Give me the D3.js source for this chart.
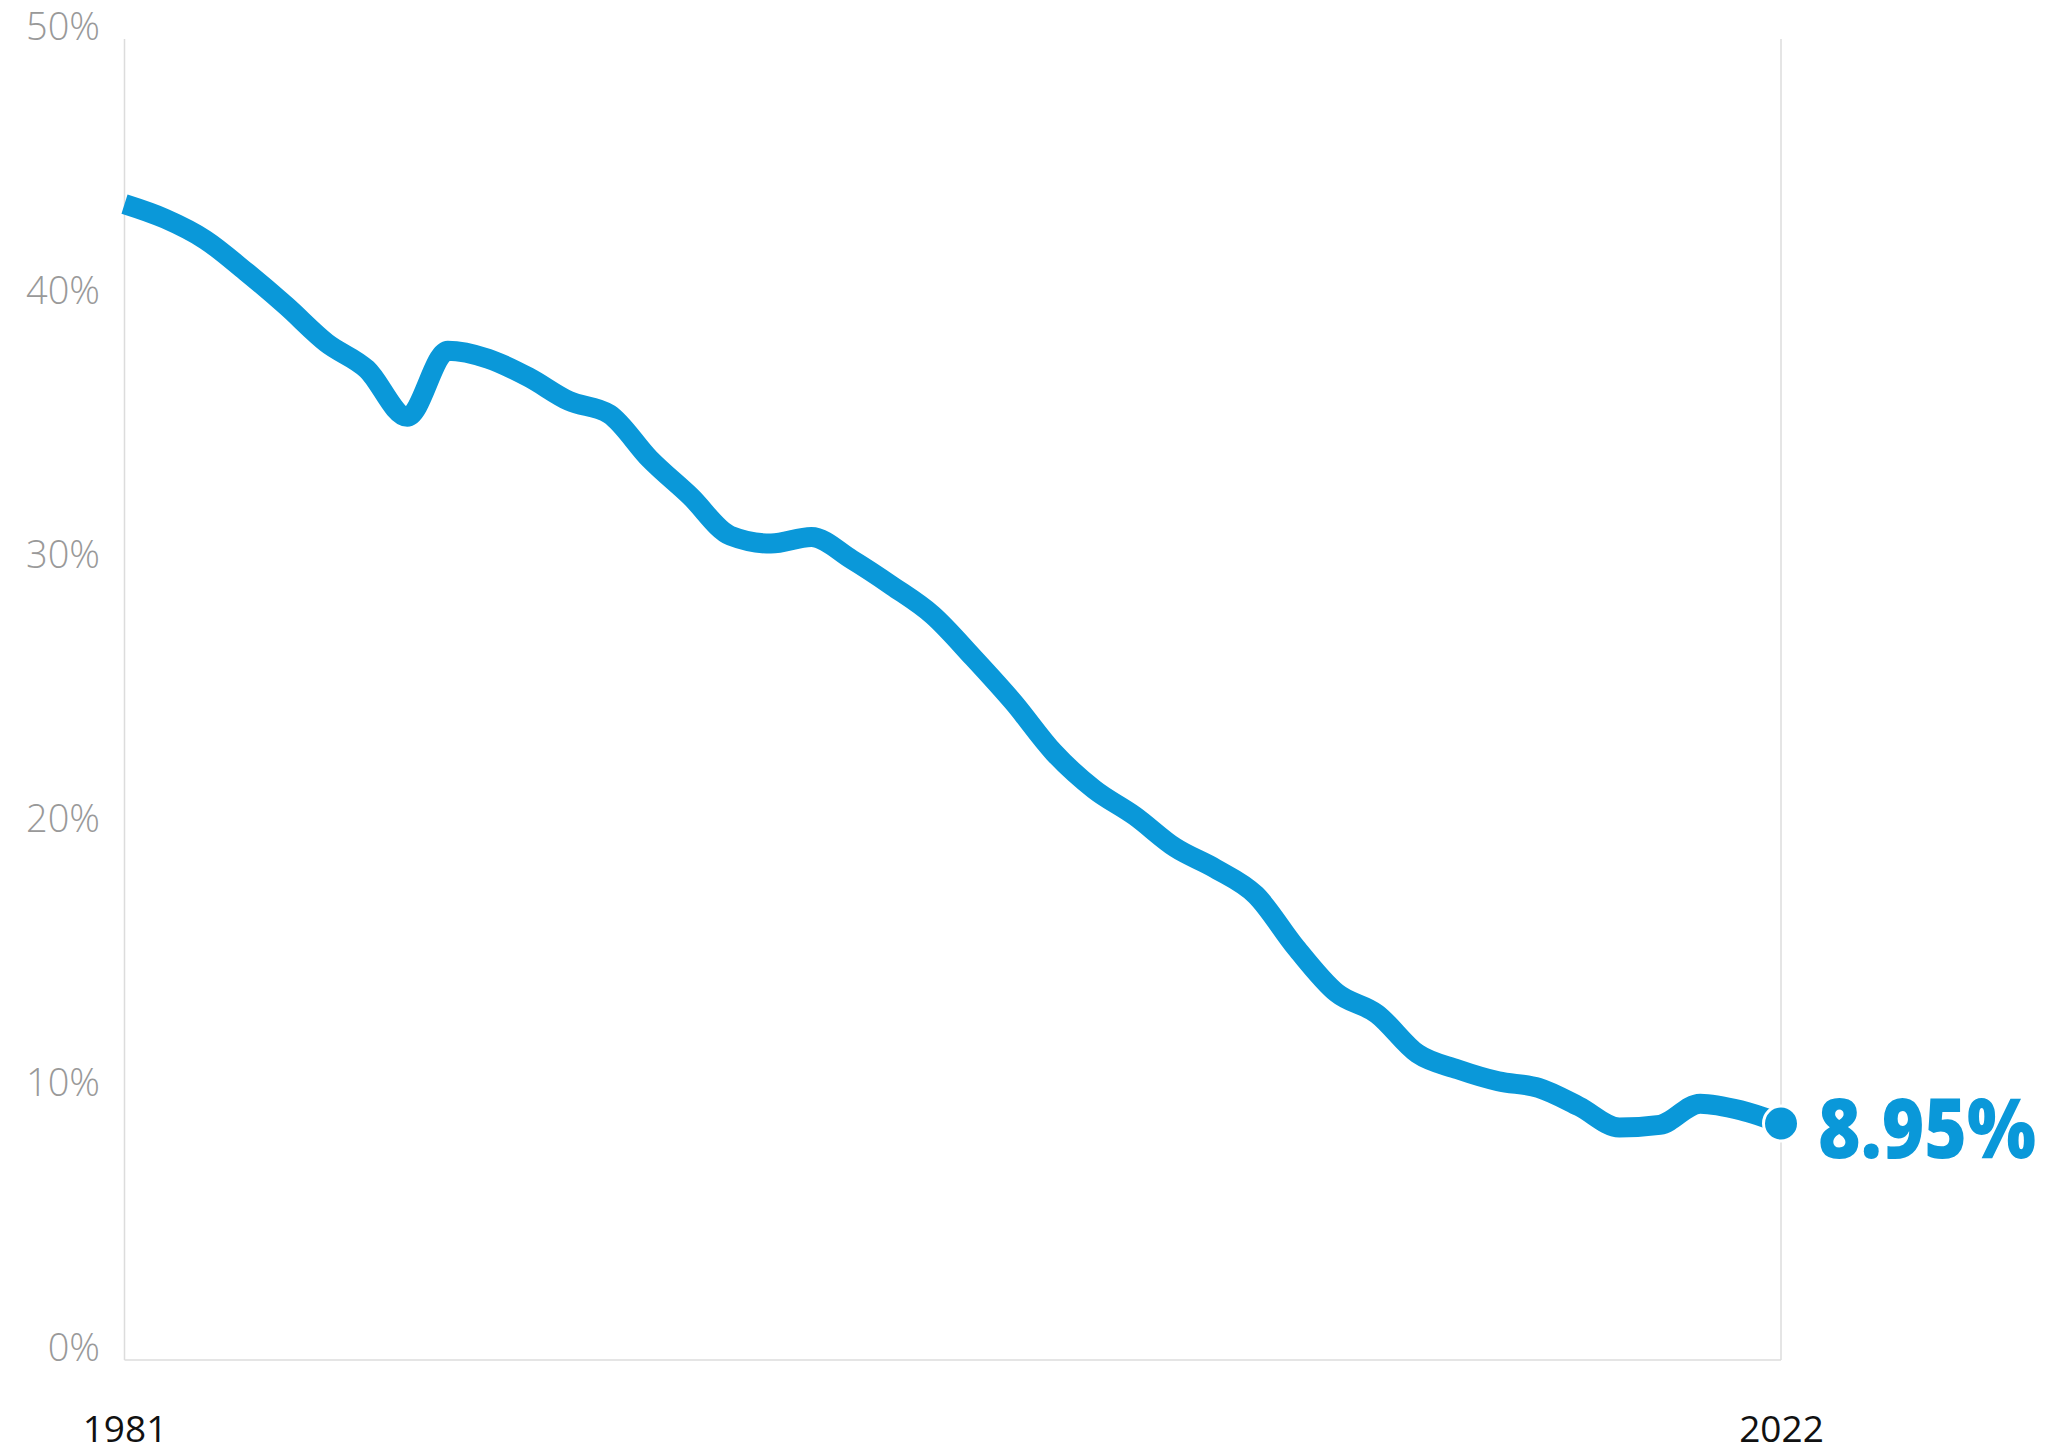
<!DOCTYPE html>
<html>
<head>
<meta charset="utf-8">
<script src="https://cdn.jsdelivr.net/npm/d3@7"></script>
<style>
  html, body { margin: 0; padding: 0; background: #fff; }
  svg { display: block; }
</style>
</head>
<body>
<svg id="chart" width="2069" height="1454"></svg>
<script>
// Yearly share, in percent, 1981–2022
const years = d3.range(1981, 2023);
const values = [
  43.75, 43.2, 42.4, 41.2, 39.9, 38.5, 37.5, 35.7, 38.2, 37.9,
  37.2, 36.3, 35.8, 34.1, 32.7, 31.2, 30.9, 31.15, 30.3, 29.3,
  28.2, 26.6, 24.9, 23.0, 21.6, 20.6, 19.4, 18.6, 17.6, 15.6,
  13.9, 13.1, 11.6, 11.0, 10.55, 10.3, 9.6, 8.8, 8.9, 9.7,
  9.45, 8.95
];
const yTicks = [0, 10, 20, 30, 40, 50];
const xTickYears = [1981, 2022];
const endLabel = "8.95%";

const blue = "#0a98d9";
const svg = d3.select("#chart");

const x = d3.scaleLinear().domain([1981, 2022]).range([124.5, 1781]);
const y = d3.scaleLinear().domain([0, 50]).range([1360, 39]);

const data = years.map((yr, i) => ({ year: yr, value: values[i] }));

// Frame: left, right and bottom rules
const frame = svg.append("g").attr("stroke", "#dcdcdc").attr("stroke-width", 1.5);
frame.append("line").attr("x1", x(1981)).attr("x2", x(1981)).attr("y1", y(50)).attr("y2", y(0));
frame.append("line").attr("x1", x(2022)).attr("x2", x(2022)).attr("y1", y(50)).attr("y2", y(0));
frame.append("line").attr("x1", x(1981)).attr("x2", x(2022)).attr("y1", y(0)).attr("y2", y(0));

// Y axis labels, baseline on the tick value
const yAxis = d3.axisLeft(y).tickValues(yTicks).tickFormat(d => d + "%").tickSize(0).tickPadding(0);
const gy = svg.append("g").attr("transform", "translate(100,0)").call(yAxis);
gy.select(".domain").remove();
gy.selectAll("text")
  .attr("dy", 0)
  .attr("font-family", "'Open Sans', sans-serif")
  .attr("font-weight", 300)
  .attr("font-size", 38)
  .attr("fill", "#999");

// X axis labels (first and last year)
const xAxis = d3.axisBottom(x).tickValues(xTickYears).tickFormat(d3.format("d")).tickSize(0).tickPadding(0);
const gx = svg.append("g").attr("transform", "translate(0,1442)").call(xAxis);
gx.select(".domain").remove();
gx.selectAll("text")
  .attr("y", 0)
  .attr("dy", 0)
  .attr("font-family", "'Open Sans', sans-serif")
  .attr("font-weight", 400)
  .attr("font-size", 37)
  .attr("fill", "#111");

// Series line
const line = d3.line()
  .x(d => x(d.year))
  .y(d => y(d.value))
  .curve(d3.curveMonotoneX);

svg.append("path")
  .datum(data)
  .attr("d", line)
  .attr("fill", "none")
  .attr("stroke", blue)
  .attr("stroke-width", 20)
  .attr("stroke-linejoin", "round");

// End marker and value label
const last = data[data.length - 1];
svg.append("circle")
  .attr("cx", x(last.year))
  .attr("cy", y(last.value))
  .attr("r", 17.5)
  .attr("fill", blue)
  .attr("stroke", "#fff")
  .attr("stroke-width", 3);

svg.append("text")
  .attr("x", x(last.year) + 37)
  .attr("y", y(last.value) + 34)
  .attr("font-family", "'Open Sans', sans-serif")
  .attr("font-weight", 800)
  .attr("font-size", 84)
  .attr("textLength", 218)
  .attr("lengthAdjust", "spacingAndGlyphs")
  .attr("fill", blue)
  .text(endLabel);
</script>
</body>
</html>
